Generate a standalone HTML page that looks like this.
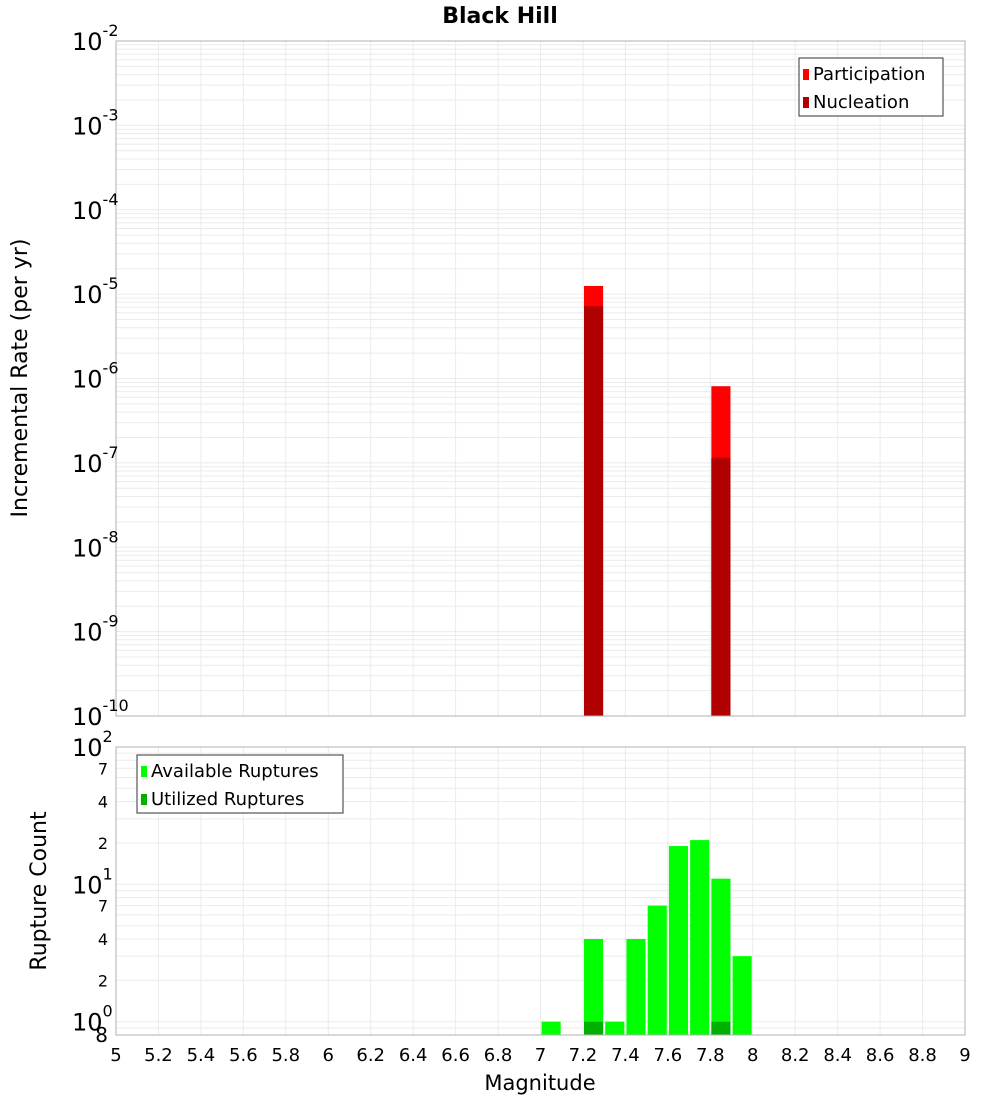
<!DOCTYPE html>
<html><head><meta charset="utf-8"><style>body{margin:0;background:#fff}svg{font-family:"DejaVu Sans","Liberation Sans",sans-serif}</style></head>
<body>
<svg id="c" width="1000" height="1100" xmlns="http://www.w3.org/2000/svg"></svg>
<script>
const magBins=[7.25,7.85];
const participation=[1.25e-5,8.1e-7];
const nucleation=[7.2e-6,1.15e-7];
const countBins=[7.05,7.25,7.35,7.45,7.55,7.65,7.75,7.85,7.95];
const available=[1,4,1,4,7,19,21,11,3];
const utilMags=[7.25,7.85];
const utilized=[1,1];
const xTicks=["5","5.2","5.4","5.6","5.8","6","6.2","6.4","6.6","6.8","7","7.2","7.4","7.6","7.8","8","8.2","8.4","8.6","8.8","9"];
const topExps=[-2,-3,-4,-5,-6,-7,-8,-9,-10];

const svg=document.getElementById('c');
const NS='http://www.w3.org/2000/svg';
function mk(t,a,p){const e=document.createElementNS(NS,t);for(const k in a)e.setAttribute(k,a[k]);(p||svg).appendChild(e);return e;}
const X0=116,X1=965;
const xs=m=>X0+(m-5)/4*(X1-X0);
const T0=41,T1=716;
const yTop=v=>T0+(-2-Math.log10(v))/8*(T1-T0);
const B0=747,B1=1035;
const lmax=2,lmin=Math.log10(0.8);
const yBot=v=>B0+(lmax-Math.log10(v))/(lmax-lmin)*(B1-B0);

let t=mk('text',{x:500,y:23,'text-anchor':'middle','font-size':22,'font-weight':'bold'});t.textContent='Black Hill';


const tg=mk('g',{});

for(let e=-10;e<-2;e++)for(let k=1;k<10;k++){const y=yTop(k*Math.pow(10,e));mk('line',{x1:X0,x2:X1,y1:y,y2:y,stroke:'#ebebeb'},tg);}
for(let i=0;i<xTicks.length;i++){const x=xs(+xTicks[i]);mk('line',{x1:x,x2:x,y1:T0,y2:T1,stroke:'#ebebeb'},tg);mk('line',{x1:x,x2:x,y1:B0,y2:B1,stroke:'#ebebeb'},tg);}
for(let e=-1;e<2;e++)for(let k=1;k<10;k++){const v=k*Math.pow(10,e);if(v<0.8)continue;const y=yBot(v);mk('line',{x1:X0,x2:X1,y1:y,y2:y,stroke:'#ebebeb'},tg);}

const bw=0.09;
magBins.forEach((m,i)=>{
 let r=mk('rect',{x:xs(m-bw/2),width:xs(m+bw/2)-xs(m-bw/2),y:yTop(participation[i]),height:T1-yTop(participation[i]),fill:'#ff0000'});
 
 r=mk('rect',{x:xs(m-bw/2),width:xs(m+bw/2)-xs(m-bw/2),y:yTop(nucleation[i]),height:T1-yTop(nucleation[i]),fill:'#b00000'});
 
});
countBins.forEach((m,i)=>{
 const r=mk('rect',{x:xs(m-bw/2),width:xs(m+bw/2)-xs(m-bw/2),y:yBot(available[i]),height:B1-yBot(available[i]),fill:'#00ff00'});
 
});
utilMags.forEach((m,i)=>{
 const r=mk('rect',{x:xs(m-bw/2),width:xs(m+bw/2)-xs(m-bw/2),y:yBot(utilized[i]),height:B1-yBot(utilized[i]),fill:'#00b000'});
 
});
mk('rect',{x:X0,y:T0,width:X1-X0,height:T1-T0,fill:'none',stroke:'#b0b0b0'});
mk('rect',{x:X0,y:B0,width:X1-X0,height:B1-B0,fill:'none',stroke:'#b0b0b0'});

topExps.forEach(e=>{
 const y=yTop(Math.pow(10,e));
 const g=mk('text',{x:72,y:y+9,'font-size':24});
 
 g.textContent='10';
 const s=mk('tspan',{dy:-14,'font-size':16},g);s.textContent=String(e);
});
[[100,'2'],[10,'1'],[1,'0']].forEach(([v,e])=>{
 const y=yBot(v);
 const g=mk('text',{x:72,y:y+9,'font-size':24});
 
 g.textContent='10';
 const s=mk('tspan',{dy:-14,'font-size':16},g);s.textContent=e;
});
[[70,'7'],[40,'4'],[20,'2'],[7,'7'],[4,'4'],[2,'2']].forEach(([v,l])=>{
 const g=mk('text',{x:108,y:yBot(v)+6,'font-size':16,'text-anchor':'end'});
 
 g.textContent=l;
});
t=mk('text',{x:108,y:B1+7,'font-size':20,'text-anchor':'end'});t.textContent='8';
xTicks.forEach(l=>{
 const g=mk('text',{x:xs(+l),y:1061,'font-size':18,'text-anchor':'middle'});
 
 g.textContent=l;
});
t=mk('text',{x:540,y:1090,'font-size':21,'text-anchor':'middle'});t.textContent='Magnitude';

t=mk('text',{x:0,y:0,'font-size':22,'text-anchor':'middle',transform:'translate(27,378) rotate(-90)'});t.textContent='Incremental Rate (per yr)';

t=mk('text',{x:0,y:0,'font-size':22,'text-anchor':'middle',transform:'translate(46,891) rotate(-90)'});t.textContent='Rupture Count';


function legend(x,y,w,items,name){
 const g=mk('g',{});
 mk('rect',{x:x,y:y,width:w,height:58,fill:'#fff',stroke:'#333'},g);
 items.forEach(([c,l],i)=>{
  mk('rect',{x:x+4,y:y+11+i*28,width:6,height:11,fill:c},g);
  const tt=mk('text',{x:x+14,y:y+22+i*28,'font-size':18},g);tt.textContent=l;
 });
}
legend(799,58,144,[['#ff0000','Participation'],['#b00000','Nucleation']],'rate-legend');
legend(137,755,206,[['#00ff00','Available Ruptures'],['#00b000','Utilized Ruptures']],'count-legend');
</script>
</body></html>
